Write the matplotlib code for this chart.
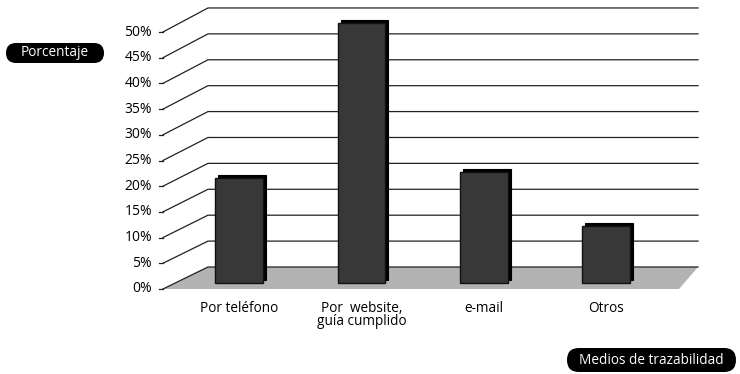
import matplotlib
matplotlib.use('Agg')
import matplotlib.pyplot as plt
from matplotlib.patches import Polygon, Rectangle, FancyBboxPatch

# ---- data ----
categories = ['Por teléfono', 'Por  website,\nguía cumplido', 'e-mail', 'Otros']
values = [20.4, 50.6, 21.5, 11.1]
yticks = [0, 5, 10, 15, 20, 25, 30, 35, 40, 45, 50]
ytick_labels = [f'{v}%' for v in yticks]
y_title = 'Porcentaje'
x_title = 'Medios de trazabilidad'

plt.rcParams['font.family'] = ['Open Sans', 'DejaVu Sans']

W, H = 740, 374
fig = plt.figure(figsize=(W / 100, H / 100), dpi=100)
ax = fig.add_axes([0, 0, 1, 1])
ax.set_xlim(-1.953, 4.092)
ax.set_ylim(-16.54, 56.23)
ax.axis('off')

# pseudo-3D geometry (category units / percent units)
front_left, front_right = -0.622, 3.594
back_left, back_right = -0.254, 3.749


def depth(v):
    return 4.28 + 0.008 * v


grid_color = '#222222'

# floor
d0 = depth(0)
floor = Polygon([(front_left, 0), (front_right, 0), (back_right, d0), (back_left, d0)],
                closed=True, facecolor='#b3b3b3', edgecolor='none', zorder=1)
ax.add_patch(floor)

# grid lines (diagonal on left wall + horizontal on back wall)
for v in yticks:
    yb = v + depth(v)
    ax.plot([front_left, back_left, back_right], [v, yb, yb], color=grid_color,
            lw=0.9, zorder=2, solid_joinstyle='miter')
    ax.plot([front_left - 0.032, front_left], [v, v], color=grid_color, lw=0.9, zorder=2)

# y tick labels
for v, lab in zip(yticks, ytick_labels):
    ax.text(-0.712, v, lab, ha='right', va='center', fontsize=10, color='#000000')

# bars
bar_w = 0.39
base = 1.17
sx, sy = 0.024, 0.6  # shadow offset (right / up)
for i, val in enumerate(values):
    shadow = Rectangle((i - bar_w / 2 + sx, base + sy), bar_w, val,
                       facecolor='black', edgecolor='black', lw=0.8, zorder=3)
    ax.add_patch(shadow)
    bar = Rectangle((i - bar_w / 2, base), bar_w, val, facecolor='#383838',
                    edgecolor='#111111', lw=1.0, zorder=4)
    ax.add_patch(bar)

# category labels
for i, c in enumerate(categories):
    ax.text(i, -2.3, c, ha='center', va='top', fontsize=9.8, color='#000000',
            linespacing=0.85)

# title badges (pixel geometry via inch transform)
def badge(x0, y0, x1, y1, text):
    tr = fig.dpi_scale_trans
    h = (y1 - y0) / 100
    p = FancyBboxPatch((x0 / 100, (H - y1) / 100), (x1 - x0) / 100, h,
                       boxstyle=f'round,pad=0,rounding_size={h / 2}',
                       transform=tr, facecolor='black', edgecolor='none', zorder=5)
    fig.add_artist(p)
    fig.text((x0 + x1) / 2 / W, 1 - (y0 + y1) / 2 / H, text, ha='center', va='center',
             color='white', fontsize=9.8, zorder=6)


badge(6, 43, 104, 63, y_title)
badge(567, 348, 736, 372, x_title)

fig.savefig('out.png', dpi=100, facecolor='white')
